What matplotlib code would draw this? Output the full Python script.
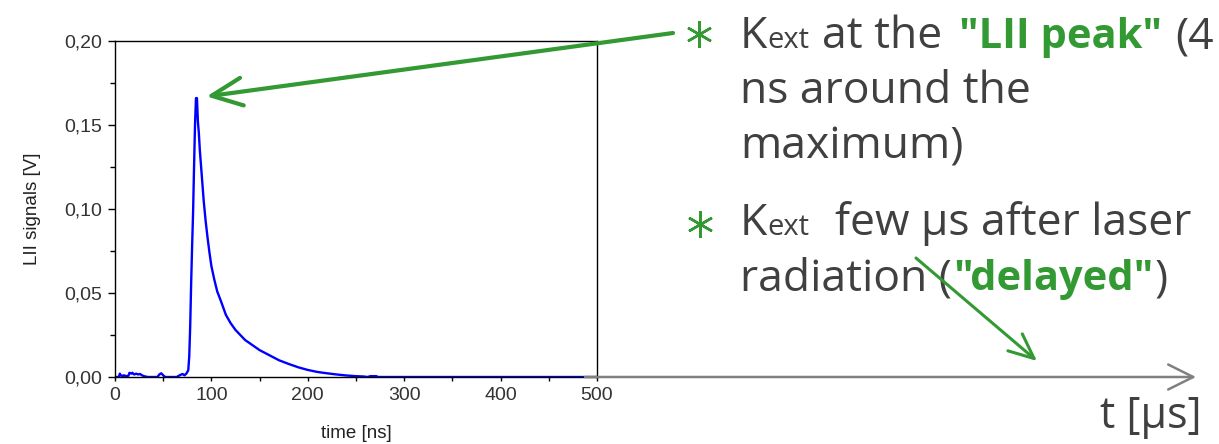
import numpy as np
import matplotlib.pyplot as plt
from matplotlib.ticker import FuncFormatter, AutoMinorLocator

# LII signal trace (time in ns, signal in V)
time_ns = [0, 4, 5, 6, 8, 9, 12, 14, 15, 17, 18, 20, 22, 24, 26, 28, 30, 34,
           44, 46, 48, 50, 52, 64, 67, 70, 72, 74, 76, 77, 78, 79, 80, 81,
           82, 83, 84, 85, 86, 87, 88, 90, 92, 94, 96, 98, 100, 103, 106,
           110, 115, 120, 125, 130, 135, 140, 150, 160, 170, 180, 190, 200,
           210, 220, 230, 240, 250, 258, 262, 265, 271, 273, 500]
lii_v = [0, 0, 0.002, 0.001, 0.0005, 0.001, 0.0005, 0.0008, 0.0025, 0.002,
         0.0025, 0.0015, 0.002, 0.0015, 0.0018, 0.001, 0.0005, 0,
         0, 0.0015, 0.0022, 0.001, 0, 0, 0.001, 0.0018, 0.001, 0.002, 0.004,
         0.012, 0.030, 0.056, 0.078, 0.098, 0.125, 0.150, 0.166, 0.166,
         0.152, 0.145, 0.135, 0.120, 0.105, 0.093, 0.083, 0.074, 0.066, 0.058,
         0.051, 0.045, 0.037, 0.032, 0.028, 0.025, 0.022, 0.020, 0.016, 0.013,
         0.010, 0.0078, 0.0058, 0.0042, 0.003, 0.0022, 0.0015, 0.0009, 0.0005,
         0.0003, 0.0, 0.0005, 0.0005, 0.0, 0.0]

x_ticks = [0, 100, 200, 300, 400, 500]
y_ticks = [0.00, 0.05, 0.10, 0.15, 0.20]

peak_t = 84.5
peak_v = 0.166

green = '#339933'
dark = '#404040'
W, H = 1219, 444

fig = plt.figure(figsize=(W / 100, H / 100), dpi=100)
ax = fig.add_axes([115 / W, 1 - 377 / H, (597 - 115) / W, (377 - 41) / H])

ax.plot(time_ns, lii_v, color='#0000ff', linewidth=1.7)
ax.set_xlim(0, 500)
ax.set_ylim(0, 0.2)
ax.set_xticks(x_ticks)
ax.set_yticks(y_ticks)
ax.xaxis.set_minor_locator(AutoMinorLocator(2))
ax.yaxis.set_minor_locator(AutoMinorLocator(2))
ax.yaxis.set_major_formatter(FuncFormatter(lambda v, _: f'{v:.2f}'.replace('.', ',')))
ax.tick_params(axis='y', which='major', length=5, width=1, pad=4,
               labelsize=14, labelcolor='#333333')
ax.tick_params(axis='y', which='minor', length=3.5, width=1)
ax.tick_params(axis='x', which='both', length=3, width=1, pad=4,
               labelsize=14, labelcolor='#333333')
for lab in ax.get_xticklabels() + ax.get_yticklabels():
    lab.set_family('Liberation Sans')
for s in ax.spines.values():
    s.set_linewidth(1)
ax.set_xlabel('time [ns]', fontsize=13.5, family='Liberation Sans', color='#222222', labelpad=15)
ax.set_ylabel('LII signals [V]', fontsize=13.5, family='Liberation Sans', color='#222222', labelpad=17)

# overlay in pixel coordinates for the slide text and arrows
ov = fig.add_axes([0, 0, 1, 1])
ov.set_xlim(0, W)
ov.set_ylim(H, 0)
ov.axis('off')

big = 32
small = 21
fam = 'Open Sans'
renderer = fig.canvas.get_renderer()

# bullets
ov.plot([699, 700], [34, 224], linestyle='none', marker=(6, 2, 0), markersize=19,
        markeredgewidth=1.8, color=green)


def put(x, y, s, size=big, color=dark, weight='normal'):
    t = ov.text(x, y, s, fontsize=size, color=color, weight=weight, family=fam,
                ha='left', va='baseline')
    return t.get_window_extent(renderer).x1


def line(x, y, pieces):
    # pieces: (text, gap before, size, color, weight)
    for s, gap, size, color, weight in pieces:
        x = put(x + gap, y, s, size, color, weight)


line(740, 48, [('K', 0, big, dark, 'normal'),
               ('ext', 0, small, dark, 'normal'),
               ('at the', 13, big, dark, 'normal'),
               ('"LII peak"', 16, 30, green, 'bold'),
               ('(4', 14, big, dark, 'normal')])
put(740, 103, 'ns around the')
put(740, 158, 'maximum)')

line(740, 235, [('K', 0, big, dark, 'normal'),
                ('ext', 0, small, dark, 'normal'),
                ('few μs after laser', 26, big, dark, 'normal')])
line(740, 290, [('radiation (', 0, big, dark, 'normal'),
                ('"delayed"', 1, 30, green, 'bold'),
                (')', 1, big, dark, 'normal')])

ov.text(1202, 428, 't [μs]', fontsize=31, color=dark, family=fam, ha='right', va='baseline')

# time axis continuing past the plot
ov.annotate('', xy=(1196, 377), xytext=(585, 377),
            arrowprops=dict(arrowstyle='->,head_length=0.9,head_width=0.45',
                            mutation_scale=20, color='#808080', lw=1.8,
                            shrinkA=0, shrinkB=0))

# arrow to the LII peak
ax.annotate('', xy=(peak_t + 10.5, peak_v + 0.001), xycoords='data',
            xytext=(673, 33), textcoords=ov.transData,
            arrowprops=dict(arrowstyle='->,head_length=1.1,head_width=0.5',
                            mutation_scale=20, color=green, lw=3,
                            shrinkA=0, shrinkB=0))

# arrow to the delayed time
ov.annotate('', xy=(1037, 361), xytext=(916, 258),
            arrowprops=dict(arrowstyle='->,head_length=0.9,head_width=0.4',
                            mutation_scale=20, color=green, lw=2.2,
                            shrinkA=0, shrinkB=0))

fig.savefig('out.png', dpi=100)
